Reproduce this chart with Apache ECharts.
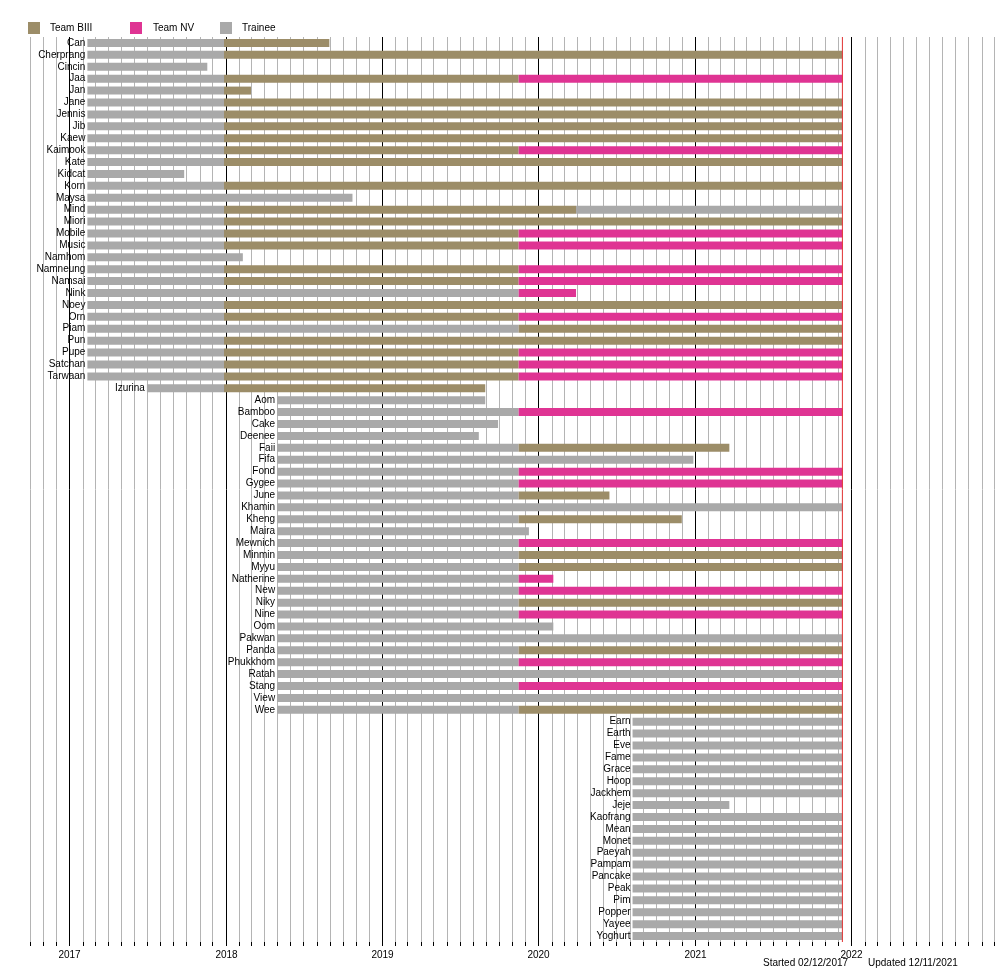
<!DOCTYPE html>
<html><head><meta charset="utf-8">
<script src="https://cdn.jsdelivr.net/npm/echarts@6/dist/echarts.min.js"></script>
<style>html,body{margin:0;padding:0;background:#fff}#c{width:1000px;height:975px}</style>
</head><body><div id="c"></div>
<script>
// key dates
const G1S = '2017-02-12', G1P = '2017-12-28', NVD = '2019-11-16', END = '2021-12-11';
const G2S = '2018-05-01', G3S = '2020-08-08';

// members, top to bottom
const members = ['Can','Cherprang','Cincin','Jaa','Jan','Jane','Jennis','Jib','Kaew','Kaimook','Kate','Kidcat','Korn','Maysa','Mind','Miori','Mobile','Music','Namhom','Namneung','Namsai','Nink','Noey','Orn','Piam','Pun','Pupe','Satchan','Tarwaan','Izurina',
  'Aom','Bamboo','Cake','Deenee','Faii','Fifa','Fond','Gygee','June','Khamin','Kheng','Maira','Mewnich','Minmin','Myyu','Natherine','New','Niky','Nine','Oom','Pakwan','Panda','Phukkhom','Ratah','Stang','View','Wee',
  'Earn','Earth','Eve','Fame','Grace','Hoop','Jackhem','Jeje','Kaofrang','Mean','Monet','Paeyah','Pampam','Pancake','Peak','Pim','Popper','Yayee','Yoghurt'];

// segments: [member, start, end, status]
const gen1BIII = ['Cherprang','Jane','Jennis','Jib','Kaew','Kate','Korn','Miori','Noey','Pun'];
const gen1NV = ['Jaa','Kaimook','Mobile','Music','Namneung','Namsai','Orn','Pupe','Satchan','Tarwaan'];
const gen2BIII = ['Minmin','Myyu','Niky','Panda','Wee'];
const gen2NV = ['Bamboo','Fond','Gygee','Mewnich','New','Nine','Phukkhom','Stang'];
const gen2Trainee = ['Khamin','Pakwan','Ratah','View'];
const gen3 = ['Earn','Earth','Eve','Fame','Grace','Hoop','Jackhem','Kaofrang','Mean','Monet','Paeyah','Pampam','Pancake','Peak','Pim','Popper','Yayee','Yoghurt'];

const segments = [
  ['Can',G1S,G1P,'Trainee'],['Can',G1P,'2018-08-31','Team BIII'],
  ['Cincin',G1S,'2017-11-19','Trainee'],
  ['Jan',G1S,G1P,'Trainee'],['Jan',G1P,'2018-03-01','Team BIII'],
  ['Kidcat',G1S,'2017-09-26','Trainee'],
  ['Maysa',G1S,'2018-10-24','Trainee'],
  ['Mind',G1S,G1P,'Trainee'],['Mind',G1P,'2020-03-29','Team BIII'],['Mind','2020-03-29',END,'Trainee'],
  ['Namhom',G1S,'2018-02-10','Trainee'],
  ['Nink',G1S,NVD,'Trainee'],['Nink',NVD,'2020-03-29','Team NV'],
  ['Piam',G1S,NVD,'Trainee'],['Piam',NVD,END,'Team BIII'],
  ['Izurina','2017-07-01',G1P,'Trainee'],['Izurina',G1P,'2019-08-30','Team BIII'],
  ['Aom',G2S,'2019-08-30','Trainee'],
  ['Cake',G2S,'2019-09-29','Trainee'],
  ['Deenee',G2S,'2019-08-15','Trainee'],
  ['Faii',G2S,NVD,'Trainee'],['Faii',NVD,'2021-03-22','Team BIII'],
  ['Fifa',G2S,'2020-12-28','Trainee'],
  ['June',G2S,NVD,'Trainee'],['June',NVD,'2020-06-15','Team BIII'],
  ['Kheng',G2S,NVD,'Trainee'],['Kheng',NVD,'2020-12-01','Team BIII'],
  ['Maira',G2S,'2019-12-10','Trainee'],
  ['Natherine',G2S,NVD,'Trainee'],['Natherine',NVD,'2020-02-05','Team NV'],
  ['Oom',G2S,'2020-02-05','Trainee'],
  ['Jeje',G3S,'2021-03-22','Trainee']
];
gen1BIII.forEach(n => segments.push([n,G1S,G1P,'Trainee'],[n,G1P,END,'Team BIII']));
gen1NV.forEach(n => segments.push([n,G1S,G1P,'Trainee'],[n,G1P,NVD,'Team BIII'],[n,NVD,END,'Team NV']));
gen2BIII.forEach(n => segments.push([n,G2S,NVD,'Trainee'],[n,NVD,END,'Team BIII']));
gen2NV.forEach(n => segments.push([n,G2S,NVD,'Trainee'],[n,NVD,END,'Team NV']));
gen2Trainee.forEach(n => segments.push([n,G2S,END,'Trainee']));
gen3.forEach(n => segments.push([n,G3S,END,'Trainee']));

const colors = {'Team BIII':'#9c8d68','Team NV':'#df3493','Trainee':'#a9a9a9'};
const years = [2017,2018,2019,2020,2021,2022,2023];

// first start per member, for labels
const firstStart = {};
segments.forEach(s => { const t = +new Date(s[1]); if (!(s[0] in firstStart) || t < firstStart[s[0]]) firstStart[s[0]] = t; });

// month grid lines
const months = [];
for (let y = 2016; y <= 2023; y++) for (let m = 0; m < 12; m++) {
  const t = Date.UTC(y, m, 1);
  if (t >= Date.UTC(2016,9,1) && t <= Date.UTC(2022,11,14)) months.push([t, m === 0 ? 1 : 0]);
}

const font = '"Liberation Sans Narrow","Liberation Sans",Arial,sans-serif';
const chart = echarts.init(document.getElementById('c'), null, {renderer:'canvas'});
chart.setOption({
  animation:false,
  grid:{left:30,right:0,top:37,bottom:33},
  xAxis:{type:'time',min:Date.UTC(2016,9,1),max:Date.UTC(2022,11,14),
    axisLabel:{show:false},axisTick:{show:false},splitLine:{show:false},
    axisLine:{lineStyle:{color:'#000',width:1}}},
  yAxis:{type:'category',data:members,inverse:true,show:false},
  series:[
    {type:'custom',silent:true,clip:false,z:1,
      data:months,
      renderItem:(p,api)=>{
        const x = Math.round(api.coord([api.value(0),0])[0]) + 0.5;
        const cs = p.coordSys;
        const major = api.value(1) === 1;
        const children = [
          {type:'line',shape:{x1:x,y1:cs.y,x2:x,y2:cs.y+cs.height},style:{stroke:major?'#000':'#b4b4b4',lineWidth:1}},
          {type:'line',shape:{x1:x,y1:cs.y+cs.height,x2:x,y2:cs.y+cs.height+4},style:{stroke:'#000',lineWidth:1}}
        ];
        if (major) children.push({type:'text',x:x,y:cs.y+cs.height+8,
          style:{text:String(new Date(api.value(0)).getUTCFullYear()),font:'10px '+font,fill:'#000',align:'center',verticalAlign:'top'}});
        return {type:'group',children};
      }},
    {type:'custom',z:2,clip:false,
      data:segments.map(s=>[members.indexOf(s[0]),+new Date(s[1]),+new Date(s[2]),s[3]]),
      encode:{x:[1,2],y:0},
      renderItem:(p,api)=>{
        const idx = api.value(0);
        const a = api.coord([api.value(1),idx]);
        const b = api.coord([api.value(2),idx]);
        const h = 8;
        const st = segments[p.dataIndex];
        const children = [{type:'rect',shape:{x:a[0],y:a[1]-h/2,width:b[0]-a[0],height:h},style:{fill:colors[st[3]]}}];
        if (+new Date(st[1]) === firstStart[st[0]]) children.push({type:'text',x:a[0]-2,y:a[1],
          style:{text:st[0],font:'10px '+font,fill:'#000',align:'right',verticalAlign:'middle'}});
        return {type:'group',children};
      }},
    {type:'custom',z:3,clip:false,data:[[+new Date(END)]],
      renderItem:(p,api)=>{
        const x = api.coord([api.value(0),0])[0];
        const cs = p.coordSys;
        return {type:'line',shape:{x1:x,y1:cs.y,x2:x,y2:cs.y+cs.height},style:{stroke:'#e03030',lineWidth:1}};
      }}
  ],
  graphic:[
    {type:'rect',left:28,top:22,shape:{width:12,height:12},style:{fill:colors['Team BIII']}},
    {type:'text',left:50,top:23,style:{text:'Team BIII',font:'10px Arial,sans-serif',fill:'#000'}},
    {type:'rect',left:130,top:22,shape:{width:12,height:12},style:{fill:colors['Team NV']}},
    {type:'text',left:153,top:23,style:{text:'Team NV',font:'10px Arial,sans-serif',fill:'#000'}},
    {type:'rect',left:220,top:22,shape:{width:12,height:12},style:{fill:colors['Trainee']}},
    {type:'text',left:242,top:23,style:{text:'Trainee',font:'10px Arial,sans-serif',fill:'#000'}},
    {type:'text',left:763,top:958,style:{text:'Started 02/12/2017',font:'10px Arial,sans-serif',fill:'#000'}},
    {type:'text',left:868,top:958,style:{text:'Updated 12/11/2021',font:'10px Arial,sans-serif',fill:'#000'}}
  ]
});
</script></body></html>
